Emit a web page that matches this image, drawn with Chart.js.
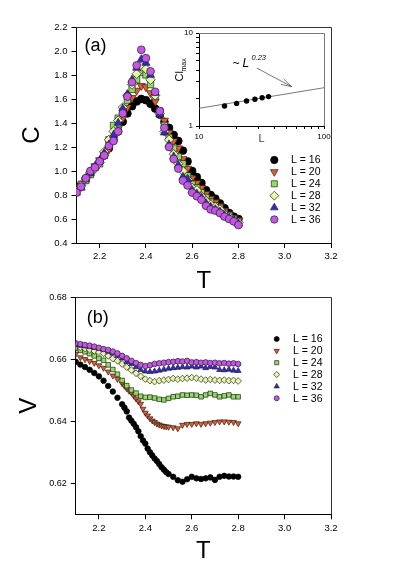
<!DOCTYPE html>
<html>
<head>
<meta charset="utf-8">
<script src="https://cdn.jsdelivr.net/npm/chart.js@4.4.1/dist/chart.umd.min.js"></script>
<style>
  html, body { margin: 0; padding: 0; background: #fff; }
  #wrap { position: relative; width: 394px; height: 566px; overflow: hidden; }
  canvas { position: absolute; }
  #chart-a { left: 0; top: 0; width: 394px; height: 300px; }
  #chart-b { left: 0; top: 283px; width: 394px; height: 283px; }
  #inset { left: 150px; top: 15px; width: 190px; height: 135px; }
</style>
</head>
<body>
<div id="wrap">
  <canvas id="chart-a" width="394" height="300"></canvas>
  <canvas id="chart-b" width="394" height="283"></canvas>
  <canvas id="inset" width="190" height="135"></canvas>
</div>
<script>
// ---- data ----
const sizeLabels = ['L = 16', 'L = 20', 'L = 24', 'L = 28', 'L = 32', 'L = 36'];
const xTicks = [2.2, 2.4, 2.6, 2.8, 3.0, 3.2];
const cTicks = [0.4, 0.6, 0.8, 1.0, 1.2, 1.4, 1.6, 1.8, 2.0, 2.2];
const vTicks = [0.62, 0.64, 0.66, 0.68];

// panel (a): specific heat C(T)
const tA = [2.10, 2.12, 2.14, 2.16, 2.18, 2.20, 2.22, 2.24, 2.26, 2.28, 2.30, 2.32, 2.34, 2.36, 2.38, 2.40, 2.42, 2.44,
  2.46, 2.48, 2.50, 2.52, 2.54, 2.56, 2.58, 2.60, 2.62, 2.64, 2.66, 2.68, 2.70, 2.72, 2.74, 2.76, 2.78, 2.80];
const cL16 = [0.84, 0.88, 0.93, 0.98, 1.03, 1.08, 1.13, 1.19, 1.26, 1.33, 1.41, 1.48, 1.54, 1.58, 1.60, 1.59, 1.56, 1.52,
  1.47, 1.41, 1.36, 1.30, 1.25, 1.17, 1.08, 1.00, 0.95, 0.90, 0.84, 0.80, 0.77, 0.73, 0.69, 0.65, 0.62, 0.60];
const cL20 = [0.84, 0.88, 0.93, 0.98, 1.04, 1.09, 1.14, 1.18, 1.27, 1.35, 1.44, 1.53, 1.61, 1.67, 1.71, 1.70, 1.65, 1.58,
  1.49, 1.42, 1.32, 1.25, 1.19, 1.10, 1.02, 0.94, 0.90, 0.86, 0.81, 0.77, 0.74, 0.71, 0.67, 0.64, 0.61, 0.59];
const cL24 = [0.84, 0.89, 0.92, 0.97, 1.03, 1.06, 1.13, 1.26, 1.38, 1.44, 1.50, 1.59, 1.68, 1.76, 1.82, 1.80, 1.72, 1.62,
  1.50, 1.38, 1.28, 1.19, 1.12, 1.06, 0.96, 0.89, 0.86, 0.82, 0.78, 0.74, 0.71, 0.69, 0.65, 0.63, 0.60, 0.58];
const cL28 = [0.83, 0.88, 0.94, 0.99, 1.02, 1.07, 1.16, 1.26, 1.33, 1.42, 1.53, 1.63, 1.72, 1.81, 1.87, 1.85, 1.76, 1.63,
  1.48, 1.33, 1.26, 1.14, 1.06, 1.00, 0.93, 0.86, 0.84, 0.79, 0.75, 0.72, 0.70, 0.68, 0.64, 0.62, 0.59, 0.57];
const cL32 = [0.82, 0.86, 0.93, 0.98, 1.04, 1.09, 1.15, 1.22, 1.30, 1.40, 1.52, 1.64, 1.76, 1.86, 1.93, 1.90, 1.80, 1.65,
  1.47, 1.32, 1.22, 1.12, 1.05, 0.95, 0.93, 0.84, 0.81, 0.78, 0.73, 0.70, 0.68, 0.66, 0.63, 0.61, 0.59, 0.56];
const cL36 = [0.82, 0.87, 0.94, 1.00, 1.03, 1.08, 1.13, 1.21, 1.25, 1.33, 1.48, 1.62, 1.74, 1.88, 2.01, 1.94, 1.83, 1.66,
  1.50, 1.36, 1.20, 1.10, 1.02, 0.92, 0.88, 0.82, 0.79, 0.76, 0.71, 0.68, 0.67, 0.65, 0.62, 0.60, 0.58, 0.55];

// inset: C max vs L (log-log) and the ~L^0.23 fit
const insetL = [16, 20, 24, 28, 32, 36];
const insetCmax = [1.64, 1.75, 1.86, 1.94, 2.01, 2.07];
const fitL = [10, 100];
const fitC = [1.55, 2.58];
const insetXTicks = [10, 20, 30, 40, 50, 60, 70, 80, 90, 100];
const insetYTicks = [1, 2, 3, 4, 5, 6, 7, 8, 9, 10];

// panel (b): V(T); L = 16 and 20 were sampled finer through the drop
const tB = tA;
const tBfine = [2.10, 2.12, 2.14, 2.16, 2.18, 2.20, 2.22, 2.24, 2.26, 2.28,
  2.30, 2.31, 2.32, 2.33, 2.34, 2.35, 2.36, 2.37, 2.38, 2.39, 2.40, 2.41, 2.42, 2.43, 2.44, 2.45, 2.46, 2.47, 2.48, 2.49, 2.50,
  2.52, 2.54, 2.56, 2.58, 2.60, 2.62, 2.64, 2.66, 2.68, 2.70, 2.72, 2.74, 2.76, 2.78, 2.80];
const vL16 = [0.6592, 0.6583, 0.6575, 0.6566, 0.6556, 0.6545, 0.6531, 0.6514, 0.6496, 0.6476,
  0.6455, 0.6444, 0.6432, 0.6412, 0.6402, 0.6392, 0.6381, 0.6368, 0.6352, 0.6338, 0.6328, 0.6312, 0.6300, 0.6290, 0.6280,
  0.6272, 0.6262, 0.6252, 0.6244, 0.6236, 0.6230,
  0.6221, 0.6210, 0.6205, 0.6213, 0.6221, 0.6216, 0.6214, 0.6216, 0.6219, 0.6211, 0.6221, 0.6224, 0.6222, 0.6222, 0.6221];
const vL20 = [0.6617, 0.6606, 0.6600, 0.6594, 0.6588, 0.6580, 0.6572, 0.6560, 0.6547, 0.6536,
  0.6522, 0.6514, 0.6506, 0.6498, 0.6492, 0.6482, 0.6473, 0.6464, 0.6456, 0.6440, 0.6427, 0.6418, 0.6409, 0.6402, 0.6397,
  0.6392, 0.6389, 0.6386, 0.6384, 0.6383, 0.6382,
  0.6380, 0.6377, 0.6388, 0.6391, 0.6391, 0.6393, 0.6391, 0.6393, 0.6395, 0.6397, 0.6399, 0.6399, 0.6398, 0.6397, 0.6393];
const vL24 = [0.6635, 0.6629, 0.6624, 0.6618, 0.6611, 0.6603, 0.6597, 0.6582, 0.6567, 0.6552, 0.6532, 0.6515, 0.6501,
  0.6491, 0.6481, 0.6477, 0.6478, 0.6475, 0.6471, 0.6469, 0.6474, 0.6479, 0.6481, 0.6485, 0.6484, 0.6485, 0.6484, 0.6479,
  0.6485, 0.6490, 0.6485, 0.6479, 0.6482, 0.6485, 0.6479, 0.6479];
const vL28 = [0.6641, 0.6638, 0.6635, 0.6631, 0.6627, 0.6623, 0.6619, 0.6611, 0.6602, 0.6595, 0.6585, 0.6575, 0.6565,
  0.6555, 0.6545, 0.6536, 0.6531, 0.6528, 0.6531, 0.6533, 0.6535, 0.6538, 0.6536, 0.6538, 0.6539, 0.6541, 0.6539, 0.6536,
  0.6533, 0.6535, 0.6533, 0.6532, 0.6533, 0.6531, 0.6532, 0.6530];
const vL32 = [0.6646, 0.6644, 0.6642, 0.6640, 0.6637, 0.6635, 0.6631, 0.6625, 0.6619, 0.6611, 0.6603, 0.6592, 0.6585,
  0.6575, 0.6566, 0.6561, 0.6560, 0.6561, 0.6564, 0.6567, 0.6570, 0.6572, 0.6573, 0.6575, 0.6574, 0.6577, 0.6574, 0.6577,
  0.6572, 0.6576, 0.6574, 0.6566, 0.6565, 0.6567, 0.6564, 0.6563];
const vL36 = [0.6652, 0.6649, 0.6646, 0.6644, 0.6641, 0.6637, 0.6633, 0.6630, 0.6625, 0.6619, 0.6611, 0.6603, 0.6595,
  0.6588, 0.6582, 0.6578, 0.6581, 0.6585, 0.6587, 0.6589, 0.6591, 0.6592, 0.6594, 0.6593, 0.6595, 0.6590, 0.6591, 0.6589,
  0.6590, 0.6588, 0.6589, 0.6587, 0.6588, 0.6586, 0.6587, 0.6585];

// ---- styles ----
const FONT = "'Liberation Sans', Arial, sans-serif";
Chart.defaults.font.family = FONT;
Chart.defaults.color = '#000';

const MARKERS = [
  { fill: '#000000', style: 'circle', rot: 0, k: 1.0 },
  { fill: '#ee5a24', style: 'triangle', rot: 180, k: 1.2 },
  { fill: '#8fe05c', style: 'rect', rot: 0, k: 1.15 },
  { fill: '#e6f6a6', style: 'rectRot', rot: 0, k: 1.2 },
  { fill: '#2b2bdc', style: 'triangle', rot: 0, k: 1.2 },
  { fill: '#c653ea', style: 'circle', rot: 0, k: 1.0 },
];

const pts = (xs, ys) => xs.map((x, i) => ({ x, y: ys[i] }));

function makeSets(series, xsList, r) {
  return series.map((ys, i) => {
    const m = MARKERS[i];
    return {
      label: sizeLabels[i],
      data: pts(xsList[i], ys),
      showLine: false,
      pointStyle: m.style,
      rotation: m.rot,
      pointRadius: r * m.k,
      backgroundColor: m.fill,
      borderColor: i === 0 ? '#000' : '#222',
      borderWidth: 0.7,
      order: 5 - i,
    };
  });
}

// frame, panel letter and the hand-placed legend
function decor(letter, legend) {
  return {
    id: 'decor' + letter,
    afterDraw(chart) {
      const { ctx, chartArea: a } = chart;
      ctx.save();
      ctx.strokeStyle = '#333';
      ctx.lineWidth = 1;
      ctx.beginPath();
      ctx.moveTo(a.left, Math.round(a.top) + 0.5);
      ctx.lineTo(Math.round(a.right) + 0.5, Math.round(a.top) + 0.5);
      ctx.lineTo(Math.round(a.right) + 0.5, a.bottom);
      ctx.stroke();

      ctx.fillStyle = '#000';
      ctx.font = '18px ' + FONT;
      ctx.textBaseline = 'middle';
      ctx.fillText(letter, a.left + legend.lx, a.top + legend.ly);

      ctx.font = legend.font + 'px ' + FONT;
      chart.data.datasets.forEach((ds, i) => {
        const y = a.top + legend.top + i * legend.step;
        ctx.fillStyle = ds.backgroundColor;
        ctx.strokeStyle = ds.borderColor;
        ctx.lineWidth = ds.borderWidth;
        Chart.helpers.drawPoint(ctx, {
          pointStyle: ds.pointStyle, rotation: ds.rotation,
          radius: ds.pointRadius * legend.scale, borderWidth: ds.borderWidth,
        }, a.right + legend.mx, y);
        ctx.fillStyle = '#000';
        ctx.fillText(ds.label, a.right + legend.tx, y + 0.5);
      });
      ctx.restore();
    },
  };
}

function xScale(height, titlePad) {
  return {
    type: 'linear', min: 2.1, max: 3.2,
    afterBuildTicks: (s) => { s.ticks = xTicks.map((v) => ({ value: v })); },
    afterFit: (s) => { s.height = height; },
    ticks: { callback: (v) => v.toFixed(1), font: { size: 9.5 }, padding: 3, maxRotation: 0 },
    grid: { drawOnChartArea: false, tickLength: 5, color: '#000' },
    border: { color: '#000', width: 1 },
    title: { display: true, text: 'T', font: { size: 24 }, padding: { top: 0, bottom: titlePad } },
  };
}

// ---- panel (a) ----
new Chart(document.getElementById('chart-a'), {
  type: 'scatter',
  data: { datasets: makeSets([cL16, cL20, cL24, cL28, cL32, cL36], [tA, tA, tA, tA, tA, tA], 3.9) },
  options: {
    responsive: false, animation: false, devicePixelRatio: 1,
    layout: { padding: { left: 0, right: 63, top: 27, bottom: 0 } },
    plugins: { legend: { display: false }, tooltip: { enabled: false } },
    events: [],
    scales: {
      x: xScale(57, 4),
      y: {
        min: 0.4, max: 2.2,
        afterBuildTicks: (s) => { s.ticks = cTicks.map((v) => ({ value: v })); },
        afterFit: (s) => { s.width = 76.5; },
        ticks: { callback: (v) => v.toFixed(1), font: { size: 9.5 }, padding: 4 },
        grid: { drawOnChartArea: false, tickLength: 5, color: '#000' },
        border: { color: '#000', width: 1 },
        title: { display: true, text: 'C', font: { size: 24 }, padding: { top: 18, bottom: 0 } },
      },
    },
  },
  plugins: [decor('(a)', { lx: 8, ly: 19.5, top: 133, step: 11.9, mx: -56.7, tx: -40, font: 10.5, scale: 0.95 })],
});

// ---- panel (b) ----
new Chart(document.getElementById('chart-b'), {
  type: 'scatter',
  data: { datasets: makeSets([vL16, vL20, vL24, vL28, vL32, vL36], [tBfine, tBfine, tB, tB, tB, tB], 2.8) },
  options: {
    responsive: false, animation: false, devicePixelRatio: 1,
    layout: { padding: { left: 0, right: 63, top: 14.3, bottom: 0 } },
    plugins: { legend: { display: false }, tooltip: { enabled: false } },
    events: [],
    scales: {
      x: xScale(51.7, 0),
      y: {
        min: 0.61, max: 0.68,
        afterBuildTicks: (s) => { s.ticks = vTicks.map((v) => ({ value: v })); },
        afterFit: (s) => { s.width = 75.7; },
        ticks: { callback: (v) => v.toFixed(2), font: { size: 9 }, padding: 4 },
        grid: { drawOnChartArea: false, tickLength: 5, color: '#000' },
        border: { color: '#000', width: 1 },
        title: { display: true, text: 'V', font: { size: 24 }, padding: { top: 14.6, bottom: 0 } },
      },
    },
  },
  plugins: [decor('(b)', { lx: 11, ly: 21, top: 41.7, step: 11.85, mx: -54.3, tx: -38, font: 10.5, scale: 0.9 })],
});

// ---- inset ----
const insetDecor = {
  id: 'insetDecor',
  afterDraw(chart) {
    const { ctx, chartArea: a, scales } = chart;
    ctx.save();
    ctx.strokeStyle = '#777';
    ctx.lineWidth = 1;
    ctx.beginPath();
    ctx.moveTo(a.left, Math.round(a.top) + 0.5);
    ctx.lineTo(Math.round(a.right) + 0.5, Math.round(a.top) + 0.5);
    ctx.lineTo(Math.round(a.right) + 0.5, a.bottom);
    ctx.stroke();

    // y title: Cl with subscript max, rotated
    ctx.fillStyle = '#000';
    ctx.translate(a.left - 20, (a.top + a.bottom) / 2 - 6);
    ctx.rotate(-Math.PI / 2);
    ctx.textBaseline = 'alphabetic';
    ctx.font = '11px ' + FONT;
    ctx.fillText('Cl', -8, 4);
    ctx.font = '7px ' + FONT;
    ctx.fillText('max', 2, 7);
    ctx.setTransform(1, 0, 0, 1, 0, 0);

    // "~ L^0.23" and the arrow pointing at the fit
    const X = scales.x, Y = scales.y;
    const tx = X.getPixelForValue(18.5), ty = Y.getPixelForValue(4.3);
    ctx.font = 'italic 12px ' + FONT;
    ctx.fillText('~', tx, ty);
    ctx.fillText('L', tx + 10, ty);
    ctx.font = 'italic 7.5px ' + FONT;
    ctx.fillText('0.23', tx + 19, ty - 7);

    const x0 = X.getPixelForValue(29), y0 = Y.getPixelForValue(4.2);
    const x1 = X.getPixelForValue(55), y1 = Y.getPixelForValue(2.65);
    const ang = Math.atan2(y1 - y0, x1 - x0);
    ctx.strokeStyle = '#555';
    ctx.lineWidth = 0.8;
    ctx.beginPath();
    ctx.moveTo(x0, y0);
    ctx.lineTo(x1, y1);
    ctx.moveTo(x1 - 11 * Math.cos(ang - 0.28), y1 - 11 * Math.sin(ang - 0.28));
    ctx.lineTo(x1, y1);
    ctx.lineTo(x1 - 11 * Math.cos(ang + 0.28), y1 - 11 * Math.sin(ang + 0.28));
    ctx.stroke();
    ctx.restore();
  },
};

new Chart(document.getElementById('inset'), {
  type: 'scatter',
  data: {
    datasets: [
      {
        data: pts(insetL, insetCmax), showLine: false, pointRadius: 2.7,
        backgroundColor: '#000', borderColor: '#000', borderWidth: 0,
      },
      {
        data: pts(fitL, fitC), showLine: true, pointRadius: 0,
        borderColor: '#777', borderWidth: 1,
      },
    ],
  },
  options: {
    responsive: false, animation: false, devicePixelRatio: 1,
    layout: { padding: { left: 0, right: 16, top: 18, bottom: 0 } },
    plugins: { legend: { display: false }, tooltip: { enabled: false } },
    events: [],
    scales: {
      x: {
        type: 'logarithmic', min: 10, max: 100,
        afterBuildTicks: (s) => { s.ticks = insetXTicks.map((v) => ({ value: v })); },
        afterFit: (s) => { s.height = 24; },
        ticks: { callback: (v) => (v === 10 || v === 100 ? String(v) : ''), font: { size: 8 }, padding: 3, autoSkip: false, maxRotation: 0 },
        grid: { drawOnChartArea: false, tickLength: 3, color: '#000' },
        border: { color: '#000', width: 1 },
        title: { display: true, text: 'L', font: { size: 11 }, padding: { top: 0, bottom: 4 }, color: '#444' },
      },
      y: {
        type: 'logarithmic', min: 1, max: 10,
        afterBuildTicks: (s) => { s.ticks = insetYTicks.map((v) => ({ value: v })); },
        afterFit: (s) => { s.width = 49; },
        ticks: { callback: (v) => (v === 1 || v === 10 ? String(v) : ''), font: { size: 8 }, padding: 3, autoSkip: false },
        grid: { drawOnChartArea: false, tickLength: 3, color: '#000' },
        border: { color: '#000', width: 1 },
      },
    },
  },
  plugins: [insetDecor],
});
</script>
</body>
</html>
